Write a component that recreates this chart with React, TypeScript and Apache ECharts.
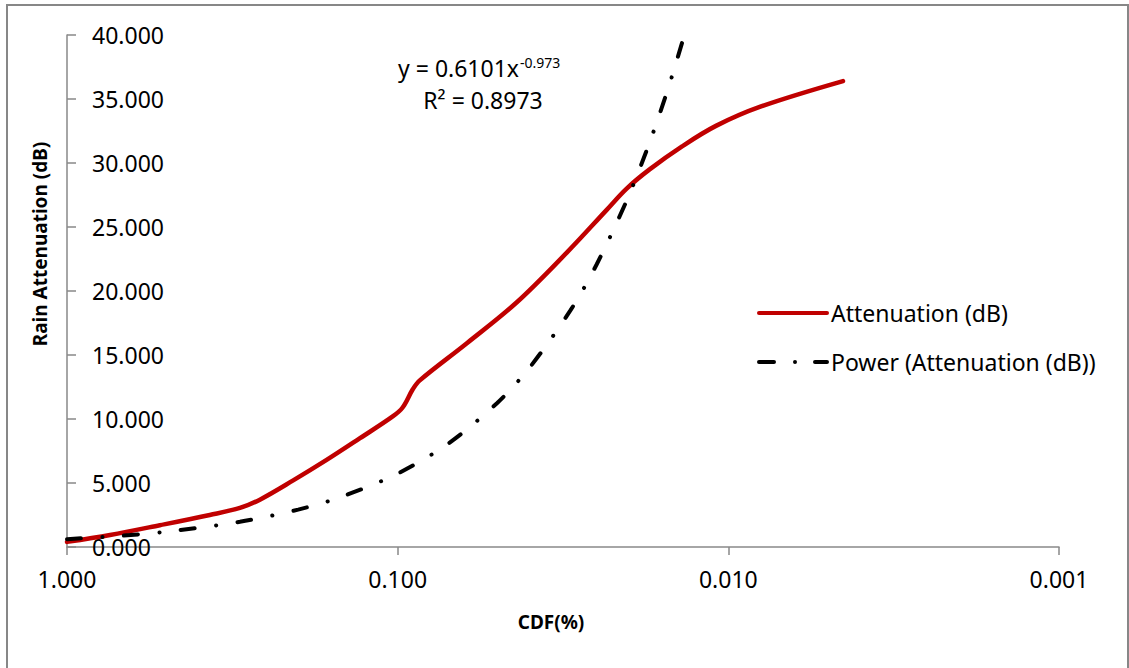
import React, { useEffect, useRef } from "react";
import * as echarts from "echarts";

const attenuationCdf = [1.0, 0.741, 0.524, 0.37, 0.3, 0.261, 0.207, 0.164, 0.13, 0.1035, 0.0966, 0.0901, 0.0859, 0.0619, 0.0437, 0.0308, 0.0234, 0.0203, 0.0173, 0.0138, 0.0109, 0.008, 0.0045];
const attenuationDb = [0.4, 0.94, 1.7, 2.5, 3.05, 3.7, 5.2, 6.8, 8.5, 10.2, 10.9, 12.3, 13.0, 15.9, 19.1, 23.0, 26.3, 28.0, 29.5, 31.3, 32.9, 34.4, 36.4];

const trendCdf = [1.0, 0.7, 0.5, 0.3, 0.2, 0.15, 0.1, 0.07, 0.05, 0.04, 0.03, 0.025, 0.02, 0.017, 0.015, 0.0136];
const trendDb = [0.61, 0.863, 1.198, 1.969, 2.921, 3.865, 5.733, 8.112, 11.254, 13.985, 18.5, 22.09, 27.45, 32.15, 36.31, 39.95];

const yMin = 0;
const yMax = 40;
const yStep = 5;
const xMin = 0.001;
const xMax = 1;

const seriesNames = ["Attenuation (dB)", "Power (Attenuation (dB))"];
const equationMain = "y = 0.6101x";
const equationSup = "-0.973";
const rSquared = "R² = 0.8973";
const xTitle = "CDF(%)";
const yTitle = "Rain Attenuation (dB)";

const FONT = "Noto Sans";

const solidIcon = "path://M2,0H70A2,2 0 0 1 70,4H2A2,2 0 0 1 2,0Z";
const dashDotIcon =
  "path://M2,0H17A2,2 0 0 1 17,4H2A2,2 0 0 1 2,0Z M38,0A2,2 0 1 1 38,4A2,2 0 1 1 38,0Z M58,0H70A2,2 0 0 1 70,4H58A2,2 0 0 1 58,0Z";

export default function App() {
  const ref = useRef<HTMLDivElement>(null);
  useEffect(() => {
    if (!ref.current) return;
    const chart = echarts.init(ref.current, null, { renderer: "svg" });
    const axisColor = "#898989";
    chart.setOption({
      animation: false,
      backgroundColor: "#ffffff",
      textStyle: { fontFamily: FONT },
      grid: { left: 67, top: 35, right: 70, bottom: 121, containLabel: false },
      legend: {
        orient: "vertical",
        left: 752,
        top: 295,
        itemWidth: 72,
        itemHeight: 4,
        itemGap: 23,
        textStyle: { fontFamily: FONT, fontSize: 23, color: "#000", lineHeight: 26, padding: [0, 0, 0, -3] },
        data: [
          { name: seriesNames[0], icon: solidIcon },
          { name: seriesNames[1], icon: dashDotIcon },
        ],
      },
      xAxis: {
        type: "log",
        logBase: 10,
        min: xMin,
        max: xMax,
        inverse: true,
        axisLine: { show: true, onZero: false, lineStyle: { color: axisColor, width: 1.5 } },
        axisTick: { show: true, length: 8, lineStyle: { color: axisColor, width: 1.5 } },
        minorTick: { show: false },
        splitLine: { show: false },
        axisLabel: {
          margin: 20,
          color: "#000",
          fontFamily: FONT,
          fontSize: 23,
          formatter: (v: number) => v.toFixed(3),
        },
      },
      yAxis: {
        type: "value",
        min: yMin,
        max: yMax,
        interval: yStep,
        axisLine: { show: true, lineStyle: { color: axisColor, width: 1.5 } },
        axisTick: { show: true, inside: true, length: 9, lineStyle: { color: axisColor, width: 1.5 } },
        splitLine: { show: false },
        axisLabel: {
          inside: true,
          margin: 25,
          color: "#000",
          fontFamily: FONT,
          fontSize: 23,
          formatter: (v: number) => v.toFixed(3),
        },
      },
      series: [
        {
          name: seriesNames[0],
          type: "line",
          data: attenuationCdf.map((x, i) => [x, attenuationDb[i]]),
          showSymbol: false,
          symbol: "none",
          smooth: 0.35,
          color: "#c00000",
          lineStyle: { color: "#c00000", width: 4.5, cap: "round", join: "round" },
          z: 3,
        },
        {
          name: seriesNames[1],
          type: "line",
          data: trendCdf.map((x, i) => [x, trendDb[i]]),
          showSymbol: false,
          symbol: "none",
          smooth: 0.3,
          color: "#000000",
          lineStyle: { color: "#000000", width: 4, type: [14, 21.5, 0.1, 21.5], cap: "round" },
          z: 4,
        },
      ],
      graphic: [
        {
          type: "rect",
          silent: true,
          shape: { x: 7, y: 5, width: 1121, height: 700 },
          style: { fill: "none", stroke: "#878787", lineWidth: 2 },
        },
        {
          type: "text",
          x: 40,
          y: 244,
          rotation: Math.PI / 2,
          style: { text: yTitle, fontFamily: FONT, fontSize: 19, fontWeight: "bold", fill: "#000", align: "center", verticalAlign: "middle" },
        },
        {
          type: "text",
          x: 551,
          y: 622,
          style: { text: xTitle, fontFamily: FONT, fontSize: 19, fontWeight: "bold", fill: "#000", align: "center", verticalAlign: "middle" },
        },
        {
          type: "text",
          x: 519,
          y: 68,
          style: { text: equationMain, fontFamily: FONT, fontSize: 23, fill: "#000", align: "right", verticalAlign: "middle" },
        },
        {
          type: "text",
          x: 520,
          y: 62,
          style: { text: equationSup, fontFamily: FONT, fontSize: 14, fill: "#000", align: "left", verticalAlign: "middle" },
        },
        {
          type: "text",
          x: 483,
          y: 100,
          style: { text: rSquared, fontFamily: FONT, fontSize: 23, fill: "#000", align: "center", verticalAlign: "middle" },
        },
      ],
    });
    return () => chart.dispose();
  }, []);
  return (
    <div
      ref={ref}
      style={{ position: "fixed", left: 0, top: 0, width: 1129, height: 668, background: "#fff" }}
    />
  );
}
